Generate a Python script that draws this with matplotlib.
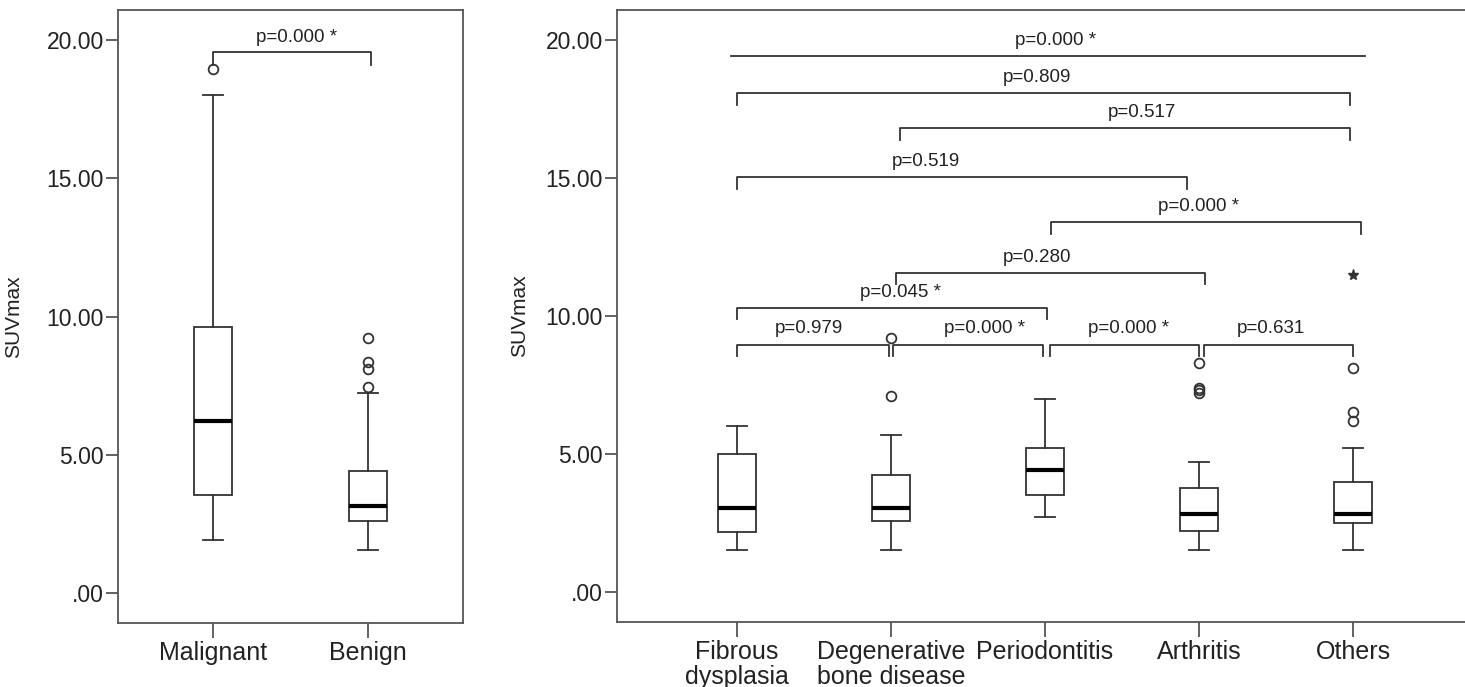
import matplotlib
matplotlib.use("Agg")
import matplotlib.pyplot as plt

plt.rcParams['font.family'] = ['Liberation Sans', 'DejaVu Sans']

# left panel: malignant vs benign
groups2 = ["Malignant", "Benign"]
q1_2 = [3.53, 2.58]
med_2 = [6.22, 3.12]
q3_2 = [9.62, 4.41]
lo_2 = [1.92, 1.53]
hi_2 = [18.03, 7.22]
out_2 = [[18.95], [7.43, 8.1, 8.35, 9.22]]

# right panel: benign subgroups
groups5 = ["Fibrous\ndysplasia", "Degenerative\nbone disease", "Periodontitis", "Arthritis", "Others"]
q1_5 = [2.18, 2.55, 3.5, 2.2, 2.5]
med_5 = [3.02, 3.05, 4.4, 2.8, 2.8]
q3_5 = [5.0, 4.25, 5.2, 3.75, 3.97]
lo_5 = [1.52, 1.52, 2.7, 1.52, 1.52]
hi_5 = [6.0, 5.7, 7.0, 4.7, 5.2]
out_5 = [[], [7.1, 9.2], [], [7.2, 7.3, 7.4, 8.3], [6.2, 6.5, 8.1]]
extreme_5 = [None, None, None, None, 11.5]

# comparisons: x1, x2, level, label
cmp_x1 = [0.96, 1.0, 2.06, 1.0, 3.04, 2.03, 1.0, 1.0, 2.01, 3.03, 4.03]
cmp_x2 = [5.08, 4.98, 4.98, 3.92, 5.05, 4.04, 3.01, 1.99, 2.99, 4.0, 5.0]
cmp_y = [19.44, 18.09, 16.81, 15.03, 13.4, 11.57, 10.3, 8.96, 8.96, 8.96, 8.96]
cmp_lab = ["p=0.000 *", "p=0.809", "p=0.517", "p=0.519", "p=0.000 *", "p=0.280",
           "p=0.045 *", "p=0.979", "p=0.000 *", "p=0.000 *", "p=0.631"]
cmp_tx = [3.07, 2.95, 3.63, 2.23, 4.0, 2.95, 2.06, 1.47, 2.61, 3.54, 4.47]
cmp_ticks = [False] + [True] * 10

edge = '#333333'
txt = '#222222'

def stats(q1, med, q3, lo, hi, out):
    return [dict(q1=a, med=b, q3=c, whislo=d, whishi=e, fliers=f)
            for a, b, c, d, e, f in zip(q1, med, q3, lo, hi, out)]

def draw_box(ax, st, pos):
    ax.bxp(st, positions=pos, widths=0.25, showfliers=True, patch_artist=True,
           boxprops=dict(facecolor='white', edgecolor=edge, linewidth=1.3),
           medianprops=dict(color='black', linewidth=3),
           whiskerprops=dict(color=edge, linewidth=1.3),
           capprops=dict(color=edge, linewidth=1.3),
           flierprops=dict(marker='o', markersize=7, markerfacecolor='none',
                           markeredgecolor=edge, markeredgewidth=1.3))

def style(ax):
    for s in ax.spines.values():
        s.set_color('#555555')
        s.set_linewidth(1.3)
    ax.tick_params(axis='y', direction='out', length=9, width=1.3, color='#555555',
                   labelsize=16.5, labelcolor=txt, pad=1)
    ax.tick_params(axis='x', direction='out', length=11, width=1.3, color='#555555',
                   labelsize=18, labelcolor=txt, pad=2)
    ax.set_yticks([0, 5, 10, 15, 20])
    ax.set_yticklabels([".00", "5.00", "10.00", "15.00", "20.00"])
    ax.set_ylim(-1.1, 21.1)
    ax.set_ylabel("SUVmax", fontsize=15, color=txt)

fig = plt.figure(figsize=(14.65, 6.87), dpi=100)

# left
ax1 = fig.add_axes([118 / 1465, 64 / 687, 345 / 1465, 613 / 687])
draw_box(ax1, stats(q1_2, med_2, q3_2, lo_2, hi_2, out_2), [1, 2])
style(ax1)
ax1.set_xlim(0.387, 2.613)
ax1.set_xticks([1, 2])
ax1.set_xticklabels(groups2)
ax1.yaxis.set_label_coords(-0.275, 0.5)
ax1.plot([1.0, 1.0, 2.02, 2.02], [19.1, 19.57, 19.57, 19.1], color=edge, lw=1.3)
ax1.text(1.54, 20.1, "p=0.000 *", ha='center', va='center', fontsize=13.5, color=txt)

# right
ax2 = fig.add_axes([617 / 1465, 65 / 687, 858 / 1465, 612 / 687])
pos5 = [1, 2, 3, 4, 5]
draw_box(ax2, stats(q1_5, med_5, q3_5, lo_5, hi_5, out_5), pos5)
for p, e in zip(pos5, extreme_5):
    if e is not None:
        ax2.plot([p], [e], marker='*', markersize=8, color=edge, linestyle='none')
style(ax2)
ax2.set_xlim(1 - 120 / 154, 1 + 738 / 154)
ax2.set_xticks(pos5)
ax2.set_xticklabels(groups5, linespacing=1.05)
ax2.yaxis.set_label_coords(-0.103, 0.5)
for x1, x2, y, lab, tx, tk in zip(cmp_x1, cmp_x2, cmp_y, cmp_lab, cmp_tx, cmp_ticks):
    if tk:
        ax2.plot([x1, x1, x2, x2], [y - 0.42, y, y, y - 0.42], color=edge, lw=1.3)
    else:
        ax2.plot([x1, x2], [y, y], color=edge, lw=1.3)
    ax2.text(tx, y + 0.57, lab, ha='center', va='center', fontsize=13.5, color=txt)

fig.savefig("out.png", dpi=100)
